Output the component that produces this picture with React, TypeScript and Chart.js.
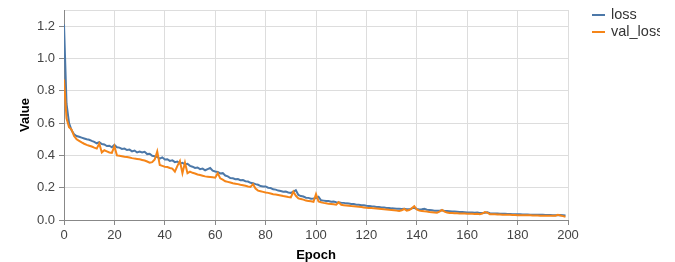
import React, { useEffect, useRef } from "react";
import { Chart, registerables } from "chart.js";

Chart.register(...registerables);

const loss = [
  1.21, 0.72, 0.60, 0.555, 0.53, 0.52, 0.515, 0.51, 0.505, 0.50,
  0.497, 0.49, 0.484, 0.475, 0.482, 0.47, 0.468, 0.458, 0.46, 0.45,
  0.465, 0.45, 0.448, 0.44, 0.442, 0.433, 0.436, 0.425, 0.43, 0.418,
  0.424, 0.418, 0.422, 0.408, 0.41, 0.398, 0.395, 0.39, 0.38, 0.388,
  0.375, 0.376, 0.366, 0.369, 0.358, 0.362, 0.35, 0.354, 0.345, 0.348,
  0.335, 0.33, 0.322, 0.325, 0.315, 0.318, 0.308, 0.315, 0.322, 0.305,
  0.30, 0.297, 0.288, 0.29, 0.275, 0.27, 0.26, 0.258, 0.252, 0.253,
  0.246, 0.247, 0.24, 0.238, 0.23, 0.228, 0.222, 0.218, 0.21, 0.208,
  0.208, 0.20, 0.198, 0.19, 0.188, 0.182, 0.18, 0.175, 0.176, 0.17,
  0.168, 0.175, 0.185, 0.155, 0.148, 0.145, 0.138, 0.137, 0.132, 0.133,
  0.136, 0.144, 0.122, 0.12, 0.117, 0.118, 0.113, 0.114, 0.11, 0.109,
  0.107, 0.106, 0.103, 0.102, 0.099, 0.099, 0.095, 0.095, 0.092, 0.091,
  0.088, 0.087, 0.085, 0.084, 0.081, 0.08, 0.078, 0.077, 0.074, 0.074,
  0.072, 0.071, 0.07, 0.069, 0.068, 0.07, 0.066, 0.066, 0.072, 0.075,
  0.068, 0.065, 0.066, 0.07, 0.064, 0.062, 0.06, 0.058, 0.057, 0.058,
  0.06, 0.056, 0.055, 0.054, 0.053, 0.052, 0.051, 0.05, 0.049, 0.048,
  0.047, 0.046, 0.046, 0.045, 0.047, 0.044, 0.043, 0.045, 0.048, 0.042,
  0.041, 0.04, 0.04, 0.039, 0.038, 0.038, 0.037, 0.037, 0.036, 0.036,
  0.035, 0.035, 0.034, 0.034, 0.034, 0.033, 0.033, 0.033, 0.032, 0.032,
  0.032, 0.031, 0.031, 0.031, 0.03, 0.03, 0.03, 0.031, 0.03, 0.028,
];

const valLoss = [
  0.87, 0.63, 0.575, 0.56, 0.52, 0.50, 0.49, 0.48, 0.472, 0.465,
  0.46, 0.455, 0.448, 0.442, 0.473, 0.418, 0.432, 0.425, 0.418, 0.415,
  0.457, 0.40, 0.398, 0.395, 0.392, 0.39, 0.387, 0.383, 0.38, 0.378,
  0.376, 0.372, 0.368, 0.362, 0.355, 0.358, 0.375, 0.425, 0.34, 0.335,
  0.33, 0.328, 0.322, 0.318, 0.30, 0.335, 0.365, 0.29, 0.355, 0.29,
  0.30, 0.292, 0.288, 0.282, 0.278, 0.274, 0.27, 0.268, 0.266, 0.264,
  0.262, 0.29, 0.258, 0.25, 0.24, 0.236, 0.232, 0.228, 0.225, 0.222,
  0.218, 0.215, 0.212, 0.208, 0.205, 0.222, 0.195, 0.182, 0.178, 0.174,
  0.17, 0.168, 0.164, 0.16, 0.158, 0.155, 0.152, 0.148, 0.145, 0.142,
  0.14, 0.175, 0.15, 0.134, 0.13, 0.126, 0.12, 0.118, 0.116, 0.113,
  0.16, 0.115, 0.11, 0.106, 0.104, 0.10, 0.099, 0.097, 0.095, 0.11,
  0.094, 0.092, 0.09, 0.088, 0.086, 0.085, 0.083, 0.082, 0.08, 0.078,
  0.076, 0.075, 0.074, 0.072, 0.071, 0.07, 0.068, 0.066, 0.065, 0.063,
  0.062, 0.06, 0.058, 0.056, 0.06, 0.068, 0.058, 0.062, 0.072, 0.086,
  0.065, 0.058, 0.056, 0.054, 0.053, 0.05, 0.048, 0.046, 0.045, 0.052,
  0.062, 0.052, 0.046, 0.044, 0.043, 0.042, 0.042, 0.041, 0.041, 0.04,
  0.039, 0.039, 0.038, 0.037, 0.038, 0.036, 0.04, 0.049, 0.045, 0.036,
  0.035, 0.035, 0.034, 0.034, 0.033, 0.033, 0.032, 0.032, 0.031, 0.031,
  0.03, 0.03, 0.03, 0.029, 0.029, 0.029, 0.028, 0.028, 0.028, 0.027,
  0.027, 0.027, 0.026, 0.026, 0.027, 0.027, 0.032, 0.028, 0.024, 0.02,
];

const epochs = loss.map((_, i) => i);
const seriesNames = ["loss", "val_loss"];
const seriesColors = ["#4c78a8", "#f58518"];
const xTicks = [0, 20, 40, 60, 80, 100, 120, 140, 160, 180, 200];
const yTicks = [0, 0.2, 0.4, 0.6, 0.8, 1.0, 1.2];
const xMax = 200;
const yMax = 1.3;

const FONT = "'Liberation Sans', Arial, Helvetica, sans-serif";

const legendPlugin = {
  id: "sideLegend",
  afterDraw(chart: any) {
    const ctx = chart.ctx;
    ctx.save();
    ctx.beginPath();
    ctx.rect(580, 0, 80, 60);
    ctx.clip();
    chart.data.datasets.forEach((ds: any, i: number) => {
      const y = 15 + i * 17;
      ctx.strokeStyle = ds.borderColor;
      ctx.lineWidth = 2;
      ctx.beginPath();
      ctx.moveTo(592, y);
      ctx.lineTo(605, y);
      ctx.stroke();
      ctx.fillStyle = "#333";
      ctx.font = `14.5px ${FONT}`;
      ctx.textAlign = "left";
      ctx.textBaseline = "middle";
      ctx.fillText(ds.label, 611, y);
    });
    ctx.restore();
  },
};

export default function App() {
  const ref = useRef<HTMLCanvasElement>(null);
  useEffect(() => {
    if (!ref.current) return;
    const chart = new Chart(ref.current, {
      type: "line",
      data: {
        datasets: [loss, valLoss].map((vals, s) => ({
          label: seriesNames[s],
          data: epochs.map((e, i) => ({ x: e, y: vals[i] })),
          borderColor: seriesColors[s],
          backgroundColor: seriesColors[s],
          borderWidth: 2,
          pointRadius: 0,
          tension: 0,
          fill: false,
          order: s === 0 ? 1 : 0,
        })),
      },
      options: {
        responsive: false,
        animation: false,
        layout: { padding: { left: 0, top: 10, right: 107, bottom: 0 } },
        plugins: { legend: { display: false }, tooltip: { enabled: false } },
        scales: {
          x: {
            type: "linear",
            min: 0,
            max: xMax,
            afterBuildTicks: (scale: any) => {
              scale.ticks = xTicks.map((v) => ({ value: v }));
            },
            afterFit: (scale: any) => {
              scale.height = 42;
              scale.paddingLeft = 0;
              scale.paddingRight = 0;
            },
            grid: { color: "#dddddd", tickColor: "#888888", tickLength: 5, lineWidth: 1 },
            border: { color: "#888888", width: 1 },
            ticks: {
              color: "#444",
              font: { family: FONT, size: 13 },
              padding: 3,
              maxRotation: 0,
              autoSkip: false,
              callback: (v: any) => String(v),
            },
            title: {
              display: true,
              text: "Epoch",
              color: "#000",
              font: { family: FONT, size: 13, weight: "bold" },
              padding: { top: 0, bottom: -1 },
            },
          },
          y: {
            type: "linear",
            min: 0,
            max: yMax,
            afterBuildTicks: (scale: any) => {
              scale.ticks = [...yTicks, yMax].map((v) => ({ value: v }));
            },
            afterFit: (scale: any) => {
              scale.width = 64;
              scale.paddingTop = 0;
              scale.paddingBottom = 0;
            },
            grid: {
              color: "#dddddd",
              tickColor: (c: any) => (c.tick && c.tick.value === yMax ? "rgba(0,0,0,0)" : "#888888"),
              tickLength: 5,
              lineWidth: 1,
            },
            border: { color: "#888888", width: 1 },
            ticks: {
              color: "#444",
              font: { family: FONT, size: 13 },
              padding: 4,
              autoSkip: false,
              callback: (v: any) => (v === yMax ? "" : Number(v).toFixed(1)),
            },
            title: {
              display: true,
              text: "Value",
              color: "#000",
              font: { family: FONT, size: 13, weight: "bold" },
              padding: { top: 18, bottom: 0 },
            },
          },
        },
      },
      plugins: [legendPlugin],
    });
    return () => chart.destroy();
  }, []);
  return (
    <div style={{ position: "fixed", left: 0, top: 0, width: 675, height: 262, background: "#fff" }}>
      <canvas ref={ref} width={675} height={262} style={{ width: 675, height: 262 }} />
    </div>
  );
}
